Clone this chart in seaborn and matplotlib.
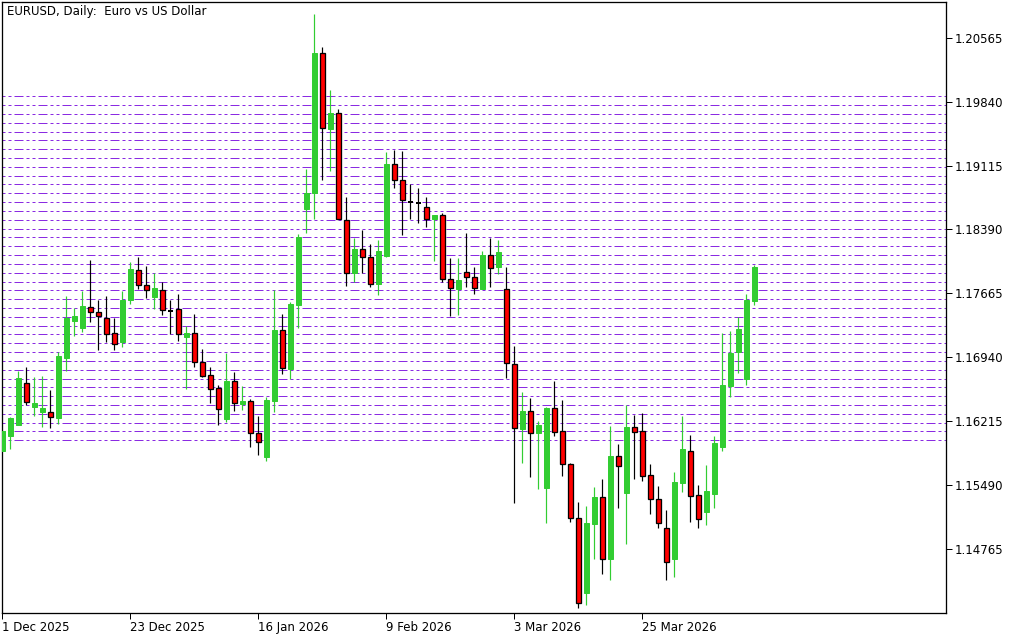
import numpy as np
import pandas as pd
import matplotlib
matplotlib.use("Agg")
import matplotlib.pyplot as plt
import seaborn as sns

# EURUSD daily bars, bar 0 = 1 Dec 2025
opens = [1.15883, 1.16053, 1.16177, 1.16645, 1.16381, 1.16325, 1.16317, 1.16257, 1.16936, 1.17355,
         1.17275, 1.17506, 1.17460, 1.17392, 1.17211, 1.17120, 1.17589, 1.17936, 1.17766, 1.17626,
         1.17709, 1.17468, 1.17483, 1.17174, 1.17211, 1.16883, 1.16736, 1.16589, 1.16242, 1.16668,
         1.16415, 1.16442, 1.16079, 1.15815, 1.16449, 1.17245, 1.16811, 1.17536, 1.18623, 1.18800,
         1.20395, 1.19533, 1.19707, 1.18498, 1.17901, 1.18170, 1.18075, 1.17769, 1.18094, 1.19133,
         1.18948, 1.18706, 1.18694, 1.18642, 1.18505, 1.18551, 1.17823, 1.17717, 1.17905, 1.17848,
         1.17719, 1.18097, 1.17969, 1.17714, 1.16863, 1.16129, 1.16329, 1.16079, 1.15463, 1.16363,
         1.16102, 1.15728, 1.15115, 1.14271, 1.15054, 1.15357, 1.14657, 1.15818, 1.15406, 1.16151,
         1.16106, 1.15603, 1.15330, 1.15001, 1.14657, 1.15519, 1.15875, 1.15376, 1.15190, 1.15395,
         1.15928, 1.16620, 1.17006, 1.16700, 1.17574]
highs = [1.16105, 1.16265, 1.16785, 1.16830, 1.16713, 1.16728, 1.16570, 1.16996, 1.17634, 1.17502,
         1.17694, 1.18042, 1.17589, 1.17634, 1.17385, 1.17694, 1.18019, 1.18080, 1.17974, 1.17898,
         1.17800, 1.17596, 1.17657, 1.17294, 1.17430, 1.17034, 1.16830, 1.16626, 1.16992, 1.16770,
         1.16615, 1.16468, 1.16275, 1.16491, 1.17702, 1.17430, 1.17570, 1.18335, 1.19076, 1.20834,
         1.20456, 1.19972, 1.19756, 1.18755, 1.18298, 1.18385, 1.18226, 1.18271, 1.19265, 1.19295,
         1.19280, 1.18906, 1.18861, 1.18759, 1.18555, 1.18573, 1.18071, 1.18071, 1.18354, 1.17969,
         1.18146, 1.18298, 1.18271, 1.17964, 1.17067, 1.16545, 1.16481, 1.16216, 1.16382, 1.16673,
         1.16458, 1.15747, 1.15296, 1.15255, 1.15470, 1.15561, 1.16163, 1.15958, 1.16401, 1.16288,
         1.16310, 1.15731, 1.15482, 1.15209, 1.15641, 1.16276, 1.16061, 1.15493, 1.15720, 1.16049,
         1.17215, 1.17241, 1.17396, 1.17661, 1.17990]
lows = [1.15875, 1.15902, 1.16170, 1.16396, 1.16279, 1.16155, 1.16143, 1.16189, 1.16785, 1.17185,
        1.17230, 1.17343, 1.17023, 1.17113, 1.17026, 1.17060, 1.17547, 1.17717, 1.17615, 1.17491,
        1.17423, 1.17200, 1.17128, 1.16585, 1.16834, 1.16721, 1.16423, 1.16177, 1.16208, 1.16336,
        1.16343, 1.15928, 1.15838, 1.15770, 1.16317, 1.16751, 1.16694, 1.17275, 1.18347, 1.18505,
        1.18951, 1.19057, 1.18505, 1.17750, 1.17799, 1.17901, 1.17742, 1.17651, 1.18078, 1.18864,
        1.18328, 1.18505, 1.18468, 1.18419, 1.18037, 1.17799, 1.17409, 1.17420, 1.17742, 1.17659,
        1.17712, 1.17742, 1.17886, 1.16704, 1.15292, 1.15747, 1.15588, 1.15451, 1.15065, 1.16053,
        1.15599, 1.15077, 1.14101, 1.14138, 1.14657, 1.14487, 1.14415, 1.15236, 1.14827, 1.15565,
        1.15542, 1.15168, 1.15009, 1.14415, 1.14453, 1.15414, 1.15077, 1.15009, 1.15039, 1.15236,
        1.15879, 1.16496, 1.16764, 1.16628, 1.17529]
closes = [1.16100, 1.16250, 1.16702, 1.16438, 1.16423, 1.16366, 1.16260, 1.16955, 1.17385, 1.17404,
          1.17521, 1.17457, 1.17404, 1.17208, 1.17087, 1.17596, 1.17947, 1.17766, 1.17706, 1.17721,
          1.17472, 1.17468, 1.17200, 1.17211, 1.16883, 1.16732, 1.16585, 1.16358, 1.16668, 1.16419,
          1.16445, 1.16079, 1.15985, 1.16453, 1.17249, 1.16815, 1.17543, 1.18300, 1.18800, 1.20395,
          1.19537, 1.19707, 1.18505, 1.17901, 1.18170, 1.18075, 1.17769, 1.18146, 1.19133, 1.18948,
          1.18721, 1.18706, 1.18694, 1.18505, 1.18555, 1.17825, 1.17732, 1.17815, 1.17848, 1.17723,
          1.18097, 1.17950, 1.18131, 1.16874, 1.16136, 1.16329, 1.16079, 1.16174, 1.16367, 1.16098,
          1.15728, 1.15115, 1.14161, 1.15058, 1.15357, 1.14657, 1.15818, 1.15712, 1.16151, 1.16098,
          1.15599, 1.15330, 1.15065, 1.14615, 1.15527, 1.15898, 1.15372, 1.15103, 1.15421, 1.15966,
          1.16624, 1.16991, 1.17260, 1.17593, 1.17964]

date_ticks = [0, 16, 32, 48, 64, 80]
date_labels = ['1 Dec 2025', '23 Dec 2025', '16 Jan 2026', '9 Feb 2026', '3 Mar 2026', '25 Mar 2026']
price_ticks = [1.14765, 1.15490, 1.16215, 1.16940, 1.17665, 1.18390, 1.19115, 1.19840, 1.20565]
levels = [1.160, 1.161, 1.162, 1.163, 1.164, 1.165, 1.166, 1.167, 1.168, 1.169,
          1.170, 1.171, 1.172, 1.173, 1.174, 1.175, 1.176, 1.177, 1.178, 1.179,
          1.180, 1.181, 1.182, 1.183, 1.184, 1.185, 1.186, 1.187, 1.188, 1.189,
          1.190, 1.191, 1.192, 1.193, 1.194, 1.195, 1.196, 1.197, 1.198, 1.199]

df = pd.DataFrame({'open': opens, 'high': highs, 'low': lows, 'close': closes})
df['bar'] = np.arange(len(df))

sns.set_theme(style='white')
plt.rcParams['font.family'] = ['DejaVu Sans']

GREEN = '#32CD32'
PURPLE = '#8A2BE2'
PX = 0.72  # one pixel in points at dpi 100

fig = plt.figure(figsize=(10.24, 6.4), dpi=100)
ax = fig.add_axes([2 / 1024, 27 / 640, 944 / 1024, 611 / 640])

# horizontal level lines (dash-dot-dot)
for lv in levels:
    ax.axhline(lv, color=PURPLE, lw=PX, ls=(0, (3, 3, 3, 3, 9, 3)), zorder=1)

up = df[df.close > df.open]
down = df[df.close < df.open]
flat = df[df.close == df.open]

ax.vlines(up.bar, up.low, up.high, color=GREEN, lw=PX * 1.2, zorder=3)
ax.vlines(down.bar, down.low, down.high, color='black', lw=PX * 1.2, zorder=3)
ax.vlines(flat.bar, flat.low, flat.high, color='black', lw=PX * 1.2, zorder=3)

ax.bar(up.bar, up.close - up.open, bottom=up.open, width=0.58,
       color=GREEN, edgecolor=GREEN, linewidth=PX, zorder=4)
ax.bar(down.bar, down.open - down.close, bottom=down.close, width=0.52,
       color='#FF0000', edgecolor='black', linewidth=PX * 1.3, zorder=4)
ax.hlines(flat.close, flat.bar - 0.32, flat.bar + 0.32, color='black', lw=PX * 2, zorder=4)

ax.set_xlim(-0.0625, 117.94)
ax.set_ylim(1.14042, 1.20969)

ax.yaxis.tick_right()
ax.set_yticks(price_ticks)
ax.set_yticklabels([f'{t:.5f}' for t in price_ticks])
ax.set_xticks(date_ticks)
ax.set_xticklabels(date_labels)
for lbl in ax.get_xticklabels():
    lbl.set_horizontalalignment('left')

ax.tick_params(axis='y', which='both', left=False, right=True, direction='out',
               length=4, width=PX, pad=2, labelsize=8.5, colors='black')
ax.tick_params(axis='x', which='both', bottom=True, direction='out',
               length=4, width=PX, pad=2, labelsize=8.5, colors='black')
ax.grid(False)
for sp in ax.spines.values():
    sp.set_color('black')
    sp.set_linewidth(PX * 1.3)

fig.text(7 / 1024, 1 - 12 / 640, 'EURUSD, Daily:  Euro vs US Dollar',
         fontsize=8.5, color='black', va='center', ha='left')

fig.savefig('out.png', dpi=100, facecolor='white')
